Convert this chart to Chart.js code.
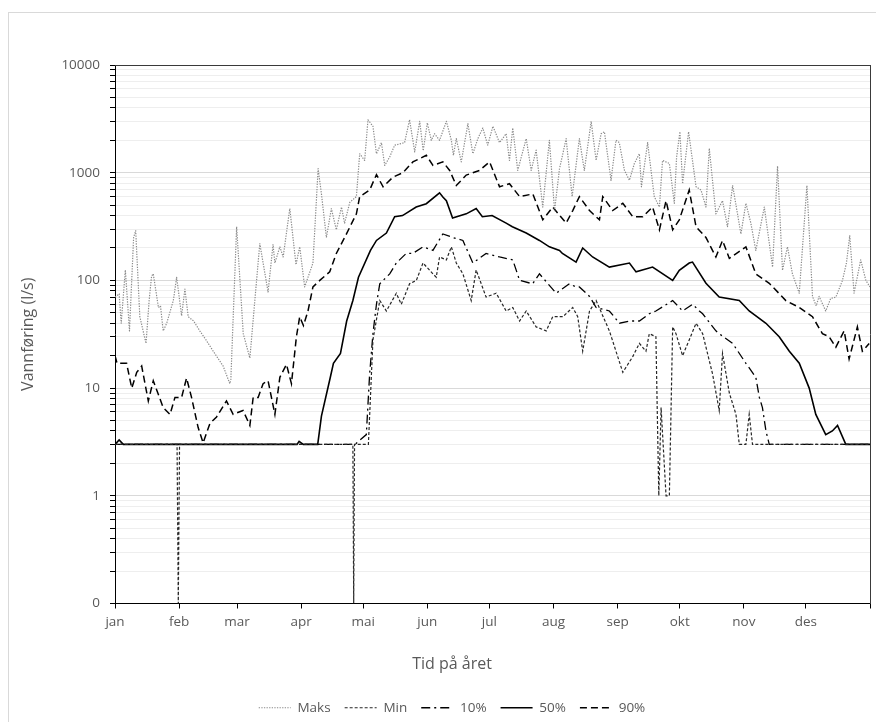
<!DOCTYPE html>
<html lang="no">
<head>
    <meta charset="UTF-8">
    <title>Vannføring gjennom året</title>
    <script src="https://cdn.jsdelivr.net/npm/chart.js"></script>
    <style>
        html, body {
            margin: 0;
            padding: 0;
            background: #fff;
            overflow: hidden;
        }
        #frame {
            position: absolute;
            left: 8px;
            top: 12px;
            width: 900px;
            height: 800px;
            border: 1px solid #d9d9d9;
        }
        #flowChart {
            position: absolute;
            left: 0;
            top: 0;
        }
    </style>
</head>
<body>
    <div id="frame"></div>
    <canvas id="flowChart" width="876" height="725"></canvas>

    <script>
        // x = dag i året (0 = 1. jan), y = vannføring i l/s
        const monthStarts = [0, 31, 59, 90, 120, 151, 181, 212, 243, 273, 304, 334, 365];
        const monthLabels = ['jan', 'feb', 'mar', 'apr', 'mai', 'jun', 'jul', 'aug', 'sep', 'okt', 'nov', 'des', ''];
        const decades = [0.1, 1, 10, 100, 1000, 10000];
        const decadeLabels = ['0', '1', '10', '100', '1000', '10000'];

        const maksDays = [0, 2, 3, 5, 7, 9, 10, 12, 15, 16.5, 17.7, 18.5, 21, 22, 23.3, 25, 28.2, 29.8, 32.2, 33.8,
            35.4, 38, 41, 44, 47.5, 52.3, 55.5, 56, 58.8, 62, 65.2, 67.6, 70, 74, 76.4, 77.3, 79.7, 81.3, 84.5, 87.5,
            89.3, 91.7, 95.7, 98.2, 99.8, 102.2, 104.6, 107, 109.5, 111, 113.5, 116.7, 118.3, 120.7, 122.3, 124.7, 126.4, 128.8, 130.4, 132.8,
            135.2, 140, 142.4, 144.9, 147.3, 149, 151, 152.9, 154.5, 156.9, 160.2, 162.6, 163.6, 165, 167.4, 170.6, 173, 175.4, 177.8, 180.2,
            182.7, 185.9, 189.1, 190.7, 192.3, 194.7, 198.8, 201.2, 203.6, 206.8, 210, 212.5, 214.9, 218.1, 221, 224.5, 226.9, 230.2, 232.6, 235,
            236.6, 239.8, 242.2, 243.8, 246.3, 248.7, 251.1, 253.5, 254.5, 257.5, 260.7, 263.2, 264.7, 268, 270.4, 271.5, 273.1, 274.4, 277.3, 280.9,
            283.3, 285.7, 287.3, 290.5, 293.7, 296.1, 298.6, 302.6, 305, 307.4, 309.8, 313.9, 317.9, 320.3, 322.7, 325.1, 327.5, 330.8, 334.5, 337.2,
            339, 340.4, 343.6, 346, 348.5, 351.7, 353.6, 355.2, 357.3, 360.5, 363, 365];
        const maksVals = [70, 75, 40, 125, 34, 250, 290, 46, 26, 65, 110, 115, 56, 58, 34, 40, 65, 107, 47, 83,
            46, 42, 34, 28, 22, 16, 11, 12, 315, 32, 19, 65, 220, 78, 215, 145, 205, 165, 465, 140,
            205, 87, 145, 1090, 635, 250, 465, 295, 480, 340, 530, 600, 1500, 1300, 3100, 2700, 1500, 1900, 1170, 1400,
            1800, 1900, 3100, 1560, 3000, 1600, 2900, 2000, 2300, 2000, 3000, 2000, 1450, 2070, 1260, 2850, 1500, 2070, 2600, 1800,
            2700, 1900, 2300, 1300, 2600, 1050, 2070, 1050, 1620, 480, 2000, 445, 1090, 2070, 600, 2070, 1050, 3000, 1300, 2300,
            2400, 850, 2000, 1900, 1050, 850, 1220, 1500, 740, 1900, 600, 480, 1300, 1220, 520, 1400, 2400, 790, 2400, 740,
            690, 480, 1680, 415, 550, 315, 760, 270, 520, 340, 190, 480, 133, 1150, 124, 205, 115, 76, 760, 71,
            58, 71, 52, 68, 70, 100, 145, 260, 76, 155, 100, 87];

        const minDays = [0, 30, 30.6, 31.2, 115, 115.4, 115.8, 122.5, 124.7, 128, 131.2, 136, 138.4, 142.4, 145.7, 148.9, 153.7, 155.3, 156.9, 160.2,
            162.6, 165, 168.2, 172.2, 174.6, 179.4, 184.3, 189.1, 192.3, 195.6, 198.8, 203.6, 208.5, 211.6, 216.5, 221.3, 223.7, 226.1, 229.4, 232.6,
            239, 245.5, 250.3, 253.5, 256.7, 258.3, 261.5, 262.9, 264, 266.4, 268, 269.6, 271.2, 274.4, 277.6, 280.9, 284.1, 288.9, 292.1, 293.7,
            297, 300.2, 301.8, 305, 306.6, 308.2, 365];
        const minVals = [3, 3, 0.1, 3, 3, 0.1, 3, 3, 28, 65, 52, 76, 60, 93, 100, 145, 115, 107, 165, 155,
            205, 145, 115, 65, 125, 70, 76, 52, 56, 42, 52, 37, 34, 46, 46, 56, 46, 22, 52, 65,
            34, 14, 19.6, 26, 22, 32, 30, 1, 6.6, 1, 1, 37, 32, 20, 28, 40, 32, 13.5, 6.2, 21,
            9, 5.7, 3, 3, 5.7, 3, 3];

        const p10Days = [0, 116, 121.5, 123.1, 124.7, 126.4, 128, 132.8, 136, 140.8, 144, 148.9, 153.7, 158.5, 163.4, 168.2, 173, 179.4, 185.9, 192.3,
            195.6, 201.9, 205.2, 213.3, 219.7, 222.9, 224.5, 229.4, 232.6, 239, 243.9, 248.7, 253.5, 258.3, 261.5, 269.6, 274.4, 279.3, 282.5, 284.1,
            290.5, 292.1, 298.6, 305, 309.8, 311.5, 313, 314.7, 316.3, 365];
        const p10Vals = [3, 3, 3.7, 13.5, 32, 60, 93, 115, 145, 178, 178, 205, 190, 270, 250, 235, 145, 178, 165, 155,
            100, 93, 115, 76, 93, 87, 87, 71, 56, 52, 40, 42, 42, 49, 52, 65, 52, 60, 52, 49,
            34, 32, 26, 17, 12.6, 8.2, 6.6, 4, 3, 3];

        const p50Days = [0, 2, 4, 88, 89, 91, 98, 99.8, 104.1, 105.6, 109, 112, 115, 117.7, 123.5, 126.4, 131.2, 135.2, 139, 145.6,
            150.5, 156.9, 158.5, 160.2, 163.2, 169.8, 174.6, 177.6, 182.3, 189.1, 192.1, 198.8, 205.2, 210, 214.9, 216.3, 222.9, 226.1, 230.9, 239,
            248.7, 251.9, 259.9, 269.6, 272.8, 277.6, 279.2, 285.7, 292.1, 301.8, 306.6, 314.7, 321.1, 326, 330.8, 335.6, 338.8, 343.6, 346.8, 349.3,
            353.3, 365];
        const p50Vals = [3, 3.3, 3, 3, 3.2, 3, 3, 5.5, 12.6, 17, 21, 42, 65, 107, 190, 235, 275, 390, 400, 480,
            515, 650, 595, 550, 380, 415, 465, 390, 400, 340, 315, 275, 235, 205, 190, 178, 148, 200, 165, 133,
            145, 120, 133, 100, 124, 145, 148, 94, 70, 65, 52, 40, 30, 22, 17, 10, 5.7, 3.7, 4, 4.5,
            3, 3];

        const p90Days = [0, 1, 5.6, 8.1, 10.5, 12.9, 16.1, 18.5, 23.3, 26.6, 29, 32.2, 34.6, 37, 40.2, 42.6, 45.9, 49.1, 53.9, 57.1,
            61.9, 65.2, 66.8, 69.2, 71.6, 74, 77.3, 79.7, 82.9, 85.3, 87.7, 89.3, 91.1, 93.3, 95.7, 99, 103.8, 107, 111.9, 116.7,
            118.3, 123.1, 126.4, 129.6, 134.4, 139.2, 144, 150.5, 153.7, 158.5, 161.8, 165, 169.8, 176.2, 181.1, 185.9, 190.7, 195.6, 202, 206.8,
            211.6, 218.1, 221.3, 224.5, 229.4, 234.2, 235.8, 240.6, 245.5, 250.3, 255.1, 259.9, 263.2, 266.4, 269.6, 272.8, 277.6, 280.9, 285.7, 290.5,
            293.7, 297, 305, 309.8, 316.3, 324.3, 330.8, 337.2, 342, 345.2, 348.5, 352.5, 354.9, 358.9, 361.3, 364.6];
        const p90Vals = [20, 17, 17, 10, 14, 16, 7.6, 11.7, 6.6, 5.7, 8.2, 8.2, 12.4, 8.2, 4.3, 3.1, 4.7, 5.4, 7.6, 5.7,
            6.2, 4.5, 8.2, 8.2, 11, 11.7, 5.7, 12.6, 16.6, 11, 30, 46, 38, 52, 87, 100, 120, 178, 270, 415,
            600, 690, 960, 740, 910, 1000, 1260, 1450, 1170, 1260, 1050, 760, 950, 1050, 1260, 740, 790, 600, 635, 365,
            480, 340, 445, 600, 445, 365, 600, 445, 520, 390, 390, 480, 295, 550, 295, 365, 690, 315, 250, 165,
            235, 160, 205, 115, 94, 65, 56, 46, 32, 30, 24, 34, 18.6, 37, 22, 26];

        const grey = '#595959';
        Chart.defaults.font.family = "'Open Sans', sans-serif";
        Chart.defaults.color = grey;

        function points(days, vals) {
            return days.map((d, i) => ({ x: d, y: vals[i] }));
        }

        // alle y-ticks: hele dekader + 2..9 innimellom
        let yTicks = [];
        decades.forEach((d, i) => {
            yTicks.push({ value: d, major: true });
            if (i < decades.length - 1) {
                for (let m = 2; m <= 9; m++) yTicks.push({ value: +(d * m).toPrecision(3), major: false });
            }
        });

        let ctx = document.getElementById('flowChart').getContext('2d');

        let flowChart = new Chart(ctx, {
            type: 'line',
            data: {
                datasets: [
                    { label: 'Maks', data: points(maksDays, maksVals), borderColor: '#8a8a8a', borderWidth: 1.2, borderDash: [1.3, 1.3], borderJoinStyle: 'round' },
                    { label: 'Min', data: points(minDays, minVals), borderColor: '#262626', borderWidth: 1.2, borderDash: [3, 2] },
                    { label: '10%', data: points(p10Days, p10Vals), borderColor: '#000', borderWidth: 1.3, borderDash: [9, 4, 2, 4] },
                    { label: '50%', data: points(p50Days, p50Vals), borderColor: '#000', borderWidth: 1.6 },
                    { label: '90%', data: points(p90Days, p90Vals), borderColor: '#000', borderWidth: 1.5, borderDash: [7, 4] }
                ].map(ds => Object.assign(ds, { xAxisID: 'x', yAxisID: 'y', pointRadius: 0, tension: 0, fill: false }))
            },
            options: {
                responsive: false,
                animation: false,
                devicePixelRatio: 1,
                layout: { padding: { left: 33, right: 5, top: 65, bottom: 0.5 } },
                scales: {
                    x: {
                        type: 'linear',
                        min: 0,
                        max: 365,
                        afterFit: s => { s.height = 32; },
                        afterBuildTicks: s => { s.ticks = monthStarts.map(v => ({ value: v })); },
                        ticks: {
                            autoSkip: false,
                            maxRotation: 0,
                            padding: 6,
                            color: grey,
                            font: { size: 13.5 },
                            callback: (v) => monthLabels[monthStarts.indexOf(v)]
                        },
                        grid: { drawOnChartArea: false, tickLength: 5, color: '#000' },
                        border: { color: '#000', width: 1 }
                    },
                    y: {
                        type: 'logarithmic',
                        min: 0.1,
                        max: 10000,
                        afterFit: s => { s.width = 82; },
                        afterBuildTicks: s => { s.ticks = yTicks.map(t => ({ value: t.value, major: t.major })); },
                        ticks: {
                            autoSkip: false,
                            padding: 10,
                            color: grey,
                            font: { size: 13.5 },
                            callback: (v) => {
                                let i = decades.indexOf(v);
                                return i >= 0 ? decadeLabels[i] : '';
                            }
                        },
                        grid: {
                            tickLength: 5,
                            tickColor: '#000',
                            color: c => (c.tick && c.tick.major) ? '#d9d9d9' : '#eeeeee'
                        },
                        border: { color: '#000', width: 1 },
                        title: {
                            display: true,
                            text: 'Vannføring (l/s)',
                            color: grey,
                            font: { size: 16 },
                            padding: { top: -14.6, bottom: 0 }
                        }
                    },
                    xTop: {
                        type: 'linear',
                        position: 'top',
                        min: 0,
                        max: 365,
                        afterFit: s => { s.height = 0; },
                        ticks: { display: false },
                        grid: { display: false, drawTicks: false },
                        border: { color: '#3a3a3a', width: 1 }
                    },
                    yRight: {
                        type: 'logarithmic',
                        position: 'right',
                        min: 0.1,
                        max: 10000,
                        afterFit: s => { s.width = 0; },
                        ticks: { display: false },
                        grid: { display: false, drawTicks: false },
                        border: { color: '#3a3a3a', width: 1 }
                    }
                },
                plugins: {
                    title: {
                        display: true,
                        text: 'Tid på året',
                        position: 'bottom',
                        weight: 500,
                        color: grey,
                        font: { size: 16, weight: 'normal' },
                        padding: { top: 18.9, bottom: 13.4 }
                    },
                    legend: {
                        position: 'bottom',
                        labels: {
                            usePointStyle: true,
                            pointStyle: 'line',
                            pointStyleWidth: 32,
                            padding: 14,
                            color: grey,
                            font: { size: 13.5 },
                            generateLabels: chart => Chart.defaults.plugins.legend.labels.generateLabels(chart).map(item => {
                                let ds = chart.data.datasets[item.datasetIndex];
                                item.lineDash = ds.borderDash || [];
                                item.lineWidth = ds.borderWidth;
                                item.strokeStyle = ds.borderColor;
                                item.pointStyle = 'line';
                                return item;
                            })
                        }
                    },
                    tooltip: { enabled: false }
                }
            }
        });
    </script>
</body>
</html>
